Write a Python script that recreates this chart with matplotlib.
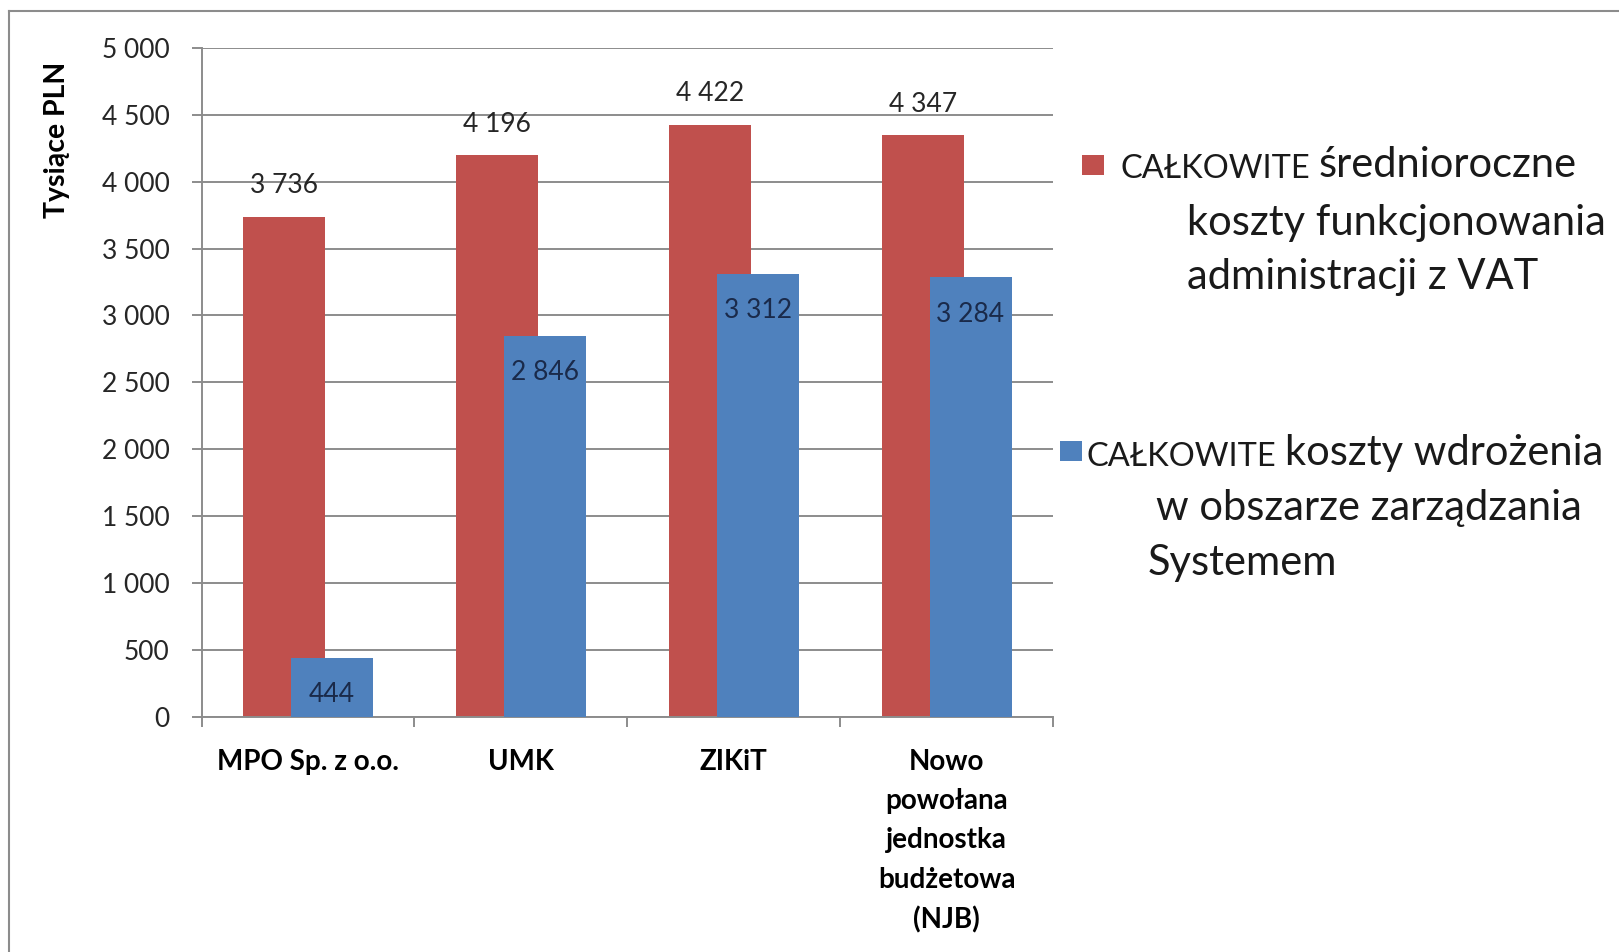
import numpy as np
import matplotlib
matplotlib.use('Agg')
import matplotlib.pyplot as plt
from matplotlib.lines import Line2D
from matplotlib.text import Annotation
from matplotlib.ticker import FuncFormatter, MultipleLocator

plt.rcParams['font.family'] = ['Lato', 'DejaVu Sans']

# --- dane ---
kategorie = ['MPO Sp. z o.o.', 'UMK', 'ZIKiT',
             'Nowo\npowołana\njednostka\nbudżetowa\n(NJB)']
koszty_funkcjonowania = [3736, 4196, 4422, 4347]   # tys. PLN
koszty_wdrozenia = [444, 2846, 3312, 3284]         # tys. PLN

CZERWONY = '#C0504D'
NIEBIESKI = '#4F81BD'
SZARY = '#8C8C8C'
W, H = 1619, 952


def fmt(v):
    return f'{v:,.0f}'.replace(',', ' ')


def fx(px):
    return px / W


def fy(py):
    return 1 - py / H


fig = plt.figure(figsize=(W / 100, H / 100), dpi=100)
ax = fig.add_axes([0.1245, 0.2468, 0.526, 0.7031])

x = np.arange(len(kategorie))
szer = 0.385
off = 0.112
b1 = ax.bar(x - off, koszty_funkcjonowania, szer, color=CZERWONY, zorder=2)
b2 = ax.bar(x + off, koszty_wdrozenia, szer, color=NIEBIESKI, zorder=3)

ax.set_xlim(-0.5, 3.5)
ax.set_ylim(0, 5000)
ax.yaxis.set_major_locator(MultipleLocator(500))
ax.yaxis.set_major_formatter(FuncFormatter(lambda v, p: fmt(v)))
ax.grid(axis='y', color=SZARY, lw=1.4, zorder=0)
ax.set_axisbelow(True)
for s in ['top', 'right']:
    ax.spines[s].set_visible(False)
for s in ['left', 'bottom']:
    ax.spines[s].set_color(SZARY)
    ax.spines[s].set_linewidth(1.4)

ax.tick_params(axis='y', length=7, width=1.4, color=SZARY, pad=16,
               labelsize=19, labelcolor='#262626')
ax.set_xticks(x)
ax.set_xticklabels(kategorie, fontweight='bold', fontsize=20, linespacing=1.63)
ax.tick_params(axis='x', which='major', length=0, pad=23)
ax.set_xticks(np.arange(-0.5, 4, 1), minor=True)
ax.tick_params(axis='x', which='minor', length=7, width=1.4, color=SZARY)

ax.set_ylabel('Tysiące PLN', fontweight='bold', fontsize=20.5)
ax.yaxis.set_label_coords(-0.154, 0.863)

# etykiety wartości
for xi, v in zip(x - off, koszty_funkcjonowania):
    ax.annotate(fmt(v), (xi, v), xytext=(0, 17), textcoords='offset points',
                ha='center', va='baseline', fontsize=19, color='#262626')
for xi, v in zip(x + off, koszty_wdrozenia):
    ax.annotate(fmt(v), (xi, v), xytext=(0, -32), textcoords='offset points',
                ha='center', va='baseline', fontsize=19, color='#1A2A4A')

# legenda (ręcznie, jak w oryginale)
for h, (cx, cy) in [(b1, (1093, 166)), (b2, (1071, 452))]:
    fig.legend(handles=[h], labels=[''], loc='center',
               bbox_to_anchor=(fx(cx), fy(cy)), frameon=False,
               handlelength=1, handleheight=1, handletextpad=0,
               borderpad=0, borderaxespad=0, fontsize=16.5)

legenda = [
    ((1120, 178), 'średnioroczne', [((1187, 235), 'koszty funkcjonowania'),
                                    ((1187, 289), 'administracji z VAT')]),
    ((1087, 466), 'koszty wdrożenia', [((1156, 520), 'w obszarze zarządzania'),
                                       ((1148, 575), 'Systemem')]),
]
for (px, py), reszta, linie in legenda:
    t = fig.text(fx(px), fy(py), 'CAŁKOWITE', fontsize=23.5, va='baseline',
                 ha='left', color='#1a1a1a')
    fig.add_artist(Annotation(reszta, xy=(1, 0), xycoords=t,
                              xytext=(6, 0), textcoords='offset points',
                              fontsize=30, va='bottom', ha='left',
                              color='#1a1a1a'))
    for (lx, ly), s in linie:
        fig.text(fx(lx), fy(ly), s, fontsize=30, va='baseline', ha='left',
                 color='#1a1a1a')

# ramka
fig.add_artist(Line2D([fx(9), fx(9)], [0, fy(11)], transform=fig.transFigure,
                      color=SZARY, lw=1.5))
fig.add_artist(Line2D([fx(9), 1], [fy(11), fy(11)], transform=fig.transFigure,
                      color=SZARY, lw=1.5))

fig.savefig('out.png', dpi=100)
